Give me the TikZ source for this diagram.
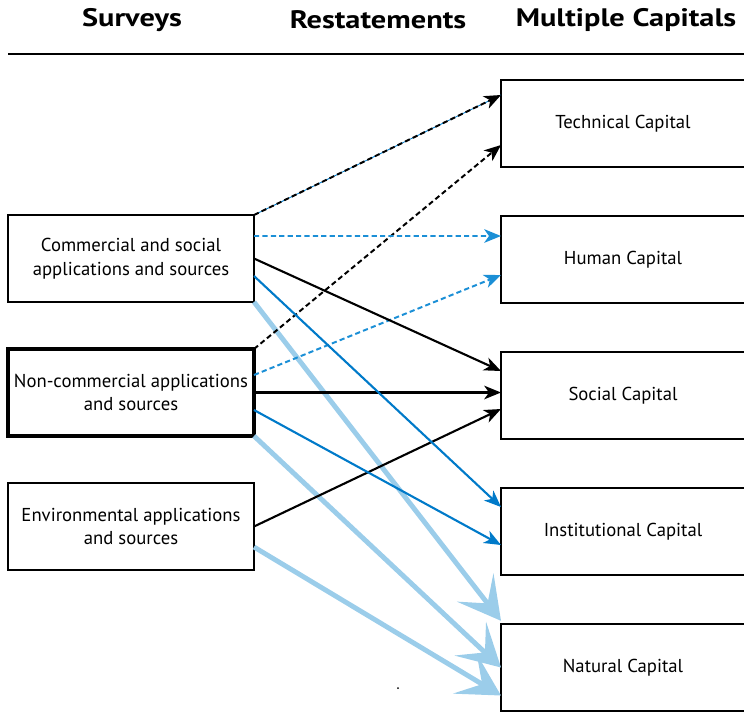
\documentclass[tikz,border=0pt]{standalone}
\usepackage{fontspec}
\setmainfont{PT Sans}
\newfontfamily\headfont[FakeStretch=1.2]{PT Sans Bold}
\usetikzlibrary{positioning,arrows.meta}
\definecolor{capblue}{RGB}{0,122,201}
\definecolor{dashblue}{RGB}{27,143,214}
\definecolor{paleblue}{RGB}{155,205,234}

\begin{document}
\begin{tikzpicture}[
    survey/.style={rectangle, draw=black, line width=1.4pt, outer sep=0pt,
      minimum width=6.15cm, minimum height=2.175cm, align=center,
      font=\fontsize{13.3}{17}\selectfont},
    capital/.style={survey, minimum width=6.1cm},
    heading/.style={font=\headfont\fontsize{18}{20}\selectfont},
    blackdash/.style={-{Stealth[length=0.42cm,width=0.34cm,inset=0.12cm]},
      line width=1.4pt, dash pattern=on 0.13cm off 0.08cm},
    bluedash/.style={blackdash, dashblue},
    blackline/.style={-{Stealth[length=0.42cm,width=0.34cm,inset=0.12cm]},
      line width=1.5pt},
    blueline/.style={blackline, capblue},
    paleline/.style={-{Stealth[length=1.05cm,width=1.15cm,inset=0.5cm]},
      line width=3.5pt, paleblue}
  ]
    \useasboundingbox (0,0) rectangle (18.6,-17.8);

    % headings and rule
    \node[heading] (hsurv) at (3.3,-0.5)   {Surveys};
    \node[heading] (hrest) at (9.45,-0.5)  {Restatements};
    \node[heading] (hcap)  at (15.65,-0.5) {Multiple Capitals};
    \draw[line width=2pt] (0.2,-1.35) -- (18.6,-1.35);

    % surveys
    \node[survey] (s1) at (3.275,-6.4625) {Commercial and social\\ applications and sources};
    \node[survey, line width=3.2pt, below=1.175cm of s1] (s2) {Non-commercial applications\\ and sources};
    \node[survey, below=1.175cm of s2] (s3) {Environmental applications\\ and sources};

    % capitals
    \node[capital] (tech) at (15.575,-3.0875) {Technical Capital};
    \node[capital, below=1.225cm of tech] (hum)  {Human Capital};
    \node[capital, below=1.225cm of hum]  (soc)  {Social Capital};
    \node[capital, below=1.225cm of soc]  (inst) {Institutional Capital};
    \node[capital, below=1.225cm of inst] (nat)  {Natural Capital};

    % natural capital
    \draw[paleline] (s1.south east) -- ([yshift=0.08cm]nat.north west);
    \draw[paleline] (s2.south east) -- (nat.west);
    \draw[paleline] ([yshift=-0.5125cm]s3.east) -- ([yshift=-0.7cm]nat.west);

    % technical capital
    \draw[capblue, line width=0.6pt] (s1.north east) -- ([yshift=0.7125cm]tech.west);
    \draw[blackdash] (s1.north east) -- ([yshift=0.7125cm]tech.west);
    \draw[blackdash] (s2.north east) -- ([yshift=-0.5375cm]tech.west);

    % human capital
    \draw[bluedash] ([yshift=0.5625cm]s1.east) -- ([yshift=0.5875cm]hum.west);
    \draw[bluedash] ([yshift=0.4375cm]s2.east) -- ([yshift=-0.3875cm]hum.west);

    % social capital
    \draw[blackline] (s1.east) -- ([yshift=0.6125cm]soc.west);
    \draw[blackline] (s2.east) -- (s2.east -| soc.west);
    \draw[blackline] (s3.east) -- ([yshift=-0.3375cm]soc.west);

    % institutional capital
    \draw[blueline] ([yshift=-0.4375cm]s1.east) -- ([yshift=0.6125cm]inst.west);
    \draw[blueline] ([yshift=-0.4375cm]s2.east) -- ([yshift=-0.3375cm]inst.west);

    \fill (9.95,-17.2) circle (0.025);
  \end{tikzpicture}
\end{document}
